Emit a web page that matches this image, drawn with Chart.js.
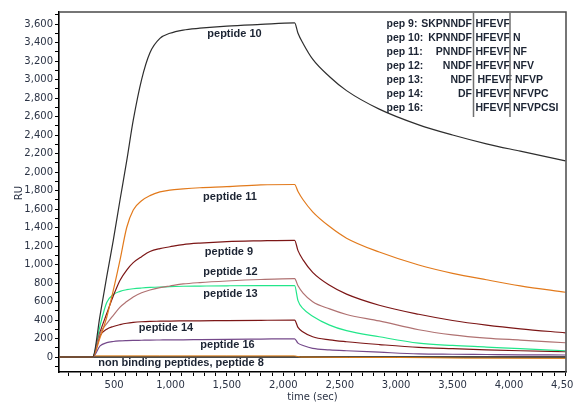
<!DOCTYPE html>
<html><head><meta charset="utf-8">
<script src="https://cdn.jsdelivr.net/npm/chart.js@4/dist/chart.umd.min.js"></script>
<style>html,body{margin:0;padding:0;background:#fff}canvas{display:block}</style>
</head><body>
<canvas id="c" width="573" height="403"></canvas>
<script>
// ---- data (time in sec, response in RU) ----
const TIME = [0,310,376,435,493,553,612,670,744,818,906,995,1112,1260,1500,1800,2100,2130,2175,2260,2410,2560,2850,3200,3500,3800,4100,4500];
const PEP10 = [0,0,450,870,1260,1700,2120,2560,3000,3290,3445,3500,3535,3555,3578,3596,3612,3500,3390,3220,3030,2880,2680,2510,2400,2305,2225,2120];
const PEP11 = [0,0,210,430,720,1050,1400,1590,1690,1745,1785,1805,1818,1830,1842,1861,1865,1790,1700,1570,1410,1285,1135,995,905,835,770,700];
const PEP9  = [0,0,270,470,660,830,940,1020,1085,1140,1172,1192,1216,1232,1248,1256,1261,1150,1050,915,775,680,560,462,395,345,305,262];
const PEP12 = [0,0,258,360,450,540,600,650,695,725,750,768,790,805,822,838,847,770,690,598,520,460,390,295,240,205,183,154];
const PEP13 = [0,0,340,590,675,710,728,738,746,752,757,760,765,767,770,772,772,610,522,442,345,285,219,150,125,108,90,68];
const PEP14 = [0,0,230,300,330,350,365,374,381,385,387,389,390,391,394,397,399,320,270,219,185,165,135,104,90,78,68,57];
const PEP16 = [0,0,120,155,168,174,177,179,181,183,184,185,186,188,191,194,197,150,125,93,78,68,52,34,30,27,24,22];
const BASE_TIME = [310,330,900,1500,2100,2150,3000,3600,4500];
const PEP8 = [0,0,0,0,0,0,0,0,0];
const NONBIND = [0,12,12,12,12,0,-5,-12,-15];

const SERIES_NAMES = ['peptide 10','peptide 11','peptide 9','peptide 12','peptide 13','peptide 14','peptide 16'];
const X_MAJOR = [500,1000,1500,2000,2500,3000,3500,4000,4500];
const Y_MAJOR = [0,200,400,600,800,1000,1200,1400,1600,1800,2000,2200,2400,2600,2800,3000,3200,3400,3600];

const LEG_LABEL = ['pep 9:','pep 10:','pep 11:','pep 12:','pep 13:','pep 14:','pep 16:'];
const LEG_PREFIX = ['SKPNNDF','KPNNDF','PNNDF','NNDF','NDF','DF',''];
const LEG_CORE = ['HFEVF','HFEVF','HFEVF','HFEVF','HFEVF','HFEVF','HFEVF'];
const LEG_SUFFIX = ['','N','NF','NFV','NFVP','NFVPC','NFVPCSI'];

function pts(t, v){ return t.map((x,i)=>({x:x,y:v[i]})); }
function ds(label, t, v, color, w){
  return {label:label, data:pts(t,v), borderColor:color, borderWidth:w||1.2, pointRadius:0,
          fill:false, cubicInterpolationMode:'monotone'};
}

const labelsPos = [
  ['peptide 10',234.5,34],['peptide 11',230,197],['peptide 9',229,251.5],['peptide 12',230.5,271.7],
  ['peptide 13',230.5,294.3],['peptide 14',166,328.3],['peptide 16',227.5,345],
  ['non binding peptides, peptide 8',181,363.3]
];

const overlay = {
  id:'overlay',
  afterDraw(chart){
    const ctx = chart.ctx, a = chart.chartArea;
    ctx.save();
    ctx.strokeStyle = '#4a4a4a'; ctx.lineWidth = 1.5;
    ctx.beginPath(); ctx.moveTo(a.left, a.top); ctx.lineTo(a.right, a.top); ctx.lineTo(a.right, a.bottom); ctx.stroke();
    // curve labels
    ctx.fillStyle = '#1c2433';
    ctx.font = 'bold 11px "Liberation Sans", Arial, sans-serif';
    ctx.textAlign = 'center'; ctx.textBaseline = 'middle';
    labelsPos.forEach(l => ctx.fillText(l[0], l[1], l[2]));
    // sequence table
    ctx.font = 'bold 10.5px "Liberation Sans", Arial, sans-serif';
    const y0 = 23.8, dy = 14.1;
    for (let i=0;i<LEG_LABEL.length;i++){
      const y = y0 + i*dy;
      ctx.textAlign = 'left'; ctx.fillText(LEG_LABEL[i], 386.5, y);
      ctx.textAlign = 'right'; ctx.fillText(LEG_PREFIX[i], 472, y);
      ctx.textAlign = 'left';
      const off = (i===4) ? 2 : 0;
      ctx.fillText(LEG_CORE[i], 475.5+off, y);
      ctx.fillText(LEG_SUFFIX[i], 513+off, y);
    }
    ctx.strokeStyle = '#707070'; ctx.lineWidth = 1.5;
    ctx.beginPath(); ctx.moveTo(473.5, 13); ctx.lineTo(473.5, 117);
    ctx.moveTo(510, 13); ctx.lineTo(510, 117); ctx.stroke();
    // axis titles
    ctx.fillStyle = '#2b3345';
    ctx.font = '10px "DejaVu Sans", sans-serif';
    ctx.textAlign = 'center'; ctx.textBaseline = 'middle';
    ctx.fillText('time (sec)', 312.5, 397);
    ctx.translate(19.5, 193); ctx.rotate(-Math.PI/2);
    ctx.fillText('RU', 0, 0);
    ctx.restore();
  }
};

Chart.defaults.font.family = '"DejaVu Sans", sans-serif';
Chart.defaults.font.size = 10;
Chart.defaults.color = '#2b3345';

new Chart(document.getElementById('c'), {
  type:'line',
  data:{ datasets:[
    ds(SERIES_NAMES[0], TIME, PEP10, '#2e2e2e'),
    ds(SERIES_NAMES[1], TIME, PEP11, '#e27a1c'),
    ds(SERIES_NAMES[3], TIME, PEP12, '#b07272'),
    ds(SERIES_NAMES[2], TIME, PEP9,  '#7c1616'),
    ds(SERIES_NAMES[4], TIME, PEP13, '#22e68a'),
    ds(SERIES_NAMES[6], TIME, PEP16, '#74488a'),
    ds(SERIES_NAMES[5], TIME, PEP14, '#7c1616'),
    ds('non binding', BASE_TIME, NONBIND, '#d9780f', 1),
    ds('peptide 8', BASE_TIME, PEP8, '#111111', 1.3)
  ]},
  options:{
    responsive:false, animation:false,
    layout:{padding:{left:0,right:7,top:12,bottom:0}},
    plugins:{legend:{display:false}, tooltip:{enabled:false}},
    scales:{
      x:{ type:'linear', min:12, max:4505,
        afterBuildTicks(s){ const t=[]; for(let v=100; v<=4500; v+=100) t.push({value:v}); s.ticks=t; },
        afterFit(s){ s.height=31; s.paddingLeft=0; s.paddingRight=0; },
        ticks:{ autoSkip:false, maxRotation:0, minRotation:0, padding:3,
          callback:(v)=> X_MAJOR.includes(v) ? v.toLocaleString('en-US') : '' },
        grid:{ drawOnChartArea:false, drawTicks:true, tickLength:4, tickColor:'#000', tickWidth:1 },
        border:{ display:true, color:'#000', width:1.6 }
      },
      y:{ type:'linear', min:-162, max:3730,
        afterBuildTicks(s){ const t=[]; for(let v=-100; v<=3700; v+=100) t.push({value:v}); s.ticks=t; },
        afterFit(s){ s.width=59; s.paddingTop=0; s.paddingBottom=0; },
        ticks:{ autoSkip:false, padding:2,
          callback:(v)=> Y_MAJOR.includes(v) ? v.toLocaleString('en-US') : '' },
        grid:{ drawOnChartArea:false, drawTicks:true, tickLength:4, tickColor:'#000', tickWidth:1 },
        border:{ display:true, color:'#000', width:1.6 }
      }
    }
  },
  plugins:[overlay]
});
</script>
</body></html>
